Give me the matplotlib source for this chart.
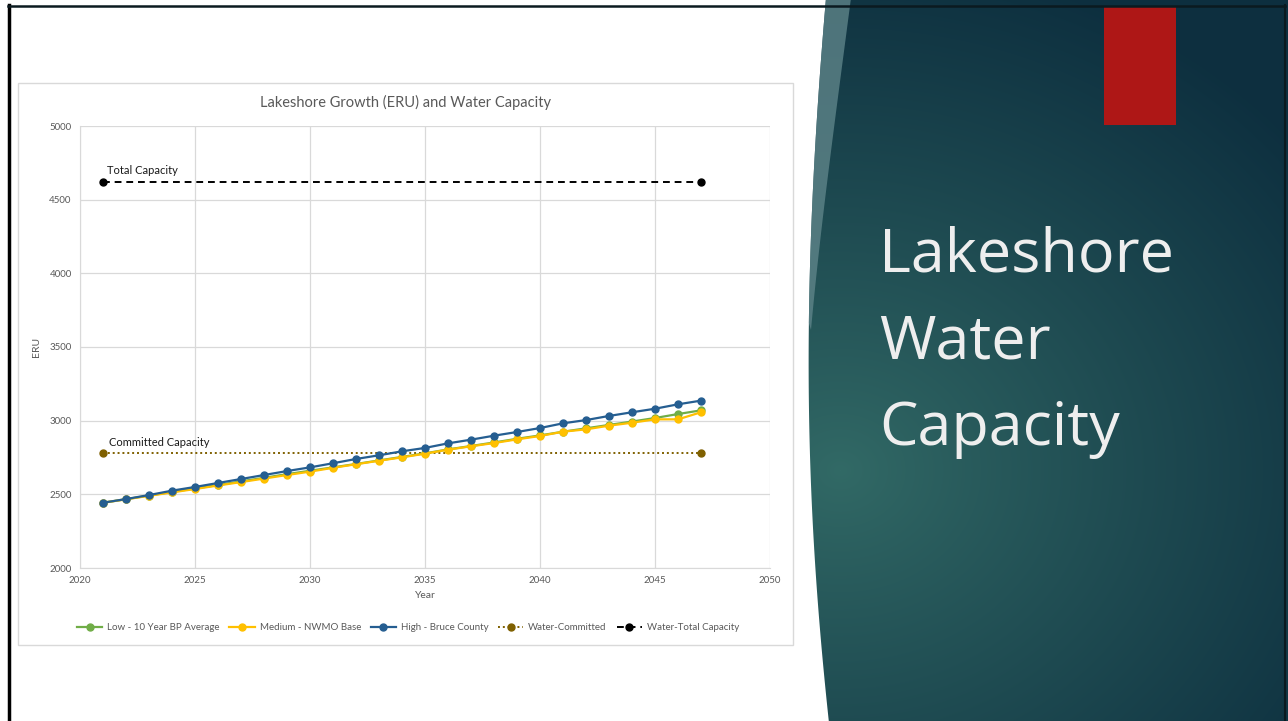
import numpy as np
import matplotlib
matplotlib.use("Agg")
import matplotlib.pyplot as plt
from matplotlib.patches import Polygon, Rectangle

# ---------------- data ----------------
years = list(range(2021, 2048))
low = [2443, 2467, 2492, 2516, 2540, 2563, 2588, 2612, 2637, 2660, 2683, 2706, 2730,
       2754, 2778, 2805, 2828, 2852, 2877, 2900, 2925, 2948, 2971, 2994, 3018, 3045, 3070]
medium = [2443, 2466, 2490, 2513, 2536, 2560, 2583, 2607, 2631, 2654, 2680, 2704, 2728,
          2751, 2776, 2803, 2826, 2848, 2873, 2896, 2925, 2941, 2966, 2986, 3009, 3009, 3057]
high = [2443, 2468, 2495, 2525, 2550, 2577, 2604, 2631, 2658, 2683, 2711, 2740, 2765,
        2792, 2815, 2846, 2871, 2898, 2923, 2950, 2982, 3004, 3032, 3057, 3081, 3111, 3136]
cap_years = [2021, 2047]
committed = [2780, 2780]
total_cap = [4620, 4620]

series_labels = ["Low - 10 Year BP Average", "Medium - NWMO Base", "High - Bruce County",
                 "Water-Committed", "Water-Total Capacity"]
chart_title = "Lakeshore Growth (ERU) and Water Capacity"
slide_title_lines = ["Lakeshore", "Water", "Capacity"]

W, H = 1288, 721
fig = plt.figure(figsize=(W / 100, H / 100), dpi=100)
fig.patch.set_facecolor("white")

# ---------------- slide background ----------------
bg = fig.add_axes([0, 0, 1, 1], zorder=0)
bg.set_xlim(0, W)
bg.set_ylim(H, 0)
bg.axis("off")


def bez(p0, p1, p2, p3, n=80):
    t = np.linspace(0, 1, n)[:, None]
    p0, p1, p2, p3 = map(np.array, (p0, p1, p2, p3))
    return (1 - t) ** 3 * p0 + 3 * (1 - t) ** 2 * t * p1 + 3 * (1 - t) * t ** 2 * p2 + t ** 3 * p3


edge = bez((826, -2), (800, 300), (805, 500), (829, 723))
panel_pts = np.vstack([edge, [[1292, 723], [1292, -2]]])

yy, xx = np.mgrid[0:H, 0:W]
light = np.array([50, 106, 102]) / 255.0
dark = np.array([13, 47, 63]) / 255.0
d = np.sqrt(((xx - 840) / 600.0) ** 2 + ((yy - 470) / 520.0) ** 2)
t = np.clip(d, 0, 1)[..., None] ** 0.9
img = light * (1 - t) + dark * t
im = bg.imshow(img, extent=(0, W, H, 0), zorder=1, interpolation="bilinear")
panel = Polygon(panel_pts, closed=True, facecolor="none", edgecolor="none", transform=bg.transData)
bg.add_patch(panel)
im.set_clip_path(panel)

# lighter stripe along the top of the curved edge
outer = edge[edge[:, 1] <= 330]
inner = bez((851, -2), (835, 120), (820, 230), (811, 330), n=60)
stripe = np.vstack([outer, inner[::-1]])
bg.add_patch(Polygon(stripe, closed=True, facecolor="#5e8489", edgecolor="none", alpha=0.8, zorder=2))

# red block
bg.add_patch(Rectangle((1104, 6), 72, 119, facecolor="#ae1716", edgecolor="none", zorder=3))

# slide border
bg.plot([9, 9], [5, H + 2], color="black", lw=2.5, zorder=5)
bg.plot([8, 1285], [5.5, 5.5], color="#0b1a20", lw=1.8, zorder=5)
bg.plot([1285, 1285], [5, H + 2], color="#0b1a20", lw=1.5, zorder=5)

# chart box
bg.add_patch(Rectangle((18, 83), 775, 562, facecolor="white", edgecolor="#d9d9d9", lw=1, zorder=4))

# slide title (one line each)
for i, line in enumerate(slide_title_lines):
    bg.text(879, 272 + 86.5 * i, line, fontsize=44, color="#eeeeee", family="Open Sans",
            va="baseline", ha="left", zorder=6)

# ---------------- chart ----------------
ax = fig.add_axes([80 / W, 1 - 568 / H, 690 / W, 442 / H], zorder=10)
ax.set_facecolor("none")

c_low, c_med, c_high = "#70ad47", "#ffc000", "#255e91"
c_com, c_tot = "#7f6000", "#000000"
ms = 5
ax.plot(years, low, color=c_low, lw=1.6, marker="o", ms=ms, zorder=3, label=series_labels[0])
ax.plot(years, medium, color=c_med, lw=1.6, marker="o", ms=ms, zorder=4, label=series_labels[1])
ax.plot(years, high, color=c_high, lw=1.6, marker="o", ms=ms, zorder=5, label=series_labels[2])
ax.plot(cap_years, committed, color=c_com, lw=1.4, ls=(0, (1, 1.5)), marker="o", ms=ms,
        zorder=2, label=series_labels[3])
ax.plot(cap_years, total_cap, color=c_tot, lw=1.4, ls=(0, (3.5, 2.5)), marker="o", ms=ms,
        zorder=2, label=series_labels[4])

ax.annotate("Total Capacity", (cap_years[0], total_cap[0]), xytext=(3, 6),
            textcoords="offset points", fontsize=8, color="#1a1a1a", family="Lato")
ax.annotate("Committed Capacity", (cap_years[0], committed[0]), xytext=(4, 5),
            textcoords="offset points", fontsize=8, color="#1a1a1a", family="Lato")

ax.set_xlim(2020, 2050)
ax.set_ylim(2000, 5000)
ax.set_xticks(range(2020, 2051, 5))
ax.set_yticks(range(2000, 5001, 500))
ax.grid(True, color="#d9d9d9", lw=0.9)
ax.set_axisbelow(True)
for s in ["top", "right"]:
    ax.spines[s].set_visible(False)
for s in ["left", "bottom"]:
    ax.spines[s].set_color("#d9d9d9")
ax.tick_params(length=0, labelsize=7, labelcolor="#595959", pad=6)
for lab in ax.get_xticklabels() + ax.get_yticklabels():
    lab.set_family("Lato")
ax.set_xlabel("Year", fontsize=7.5, color="#595959", family="Lato", labelpad=4)
ax.set_ylabel("ERU", fontsize=7.5, color="#595959", family="Lato", labelpad=6)
fig.text(405 / W, 1 - 102 / H, chart_title, fontsize=10.5, color="#595959", family="Lato",
         ha="center", va="center", zorder=11)

handles, labels = ax.get_legend_handles_labels()
leg = fig.legend(handles, labels, loc="center", bbox_to_anchor=(408 / W, 1 - 628 / H), ncol=5,
                 frameon=False, handlelength=2.6, columnspacing=1.0, handletextpad=0.5,
                 prop={"family": "Lato", "size": 7})
for txt in leg.get_texts():
    txt.set_color("#595959")
leg.set_zorder(12)

fig.savefig("out.png", dpi=100)
